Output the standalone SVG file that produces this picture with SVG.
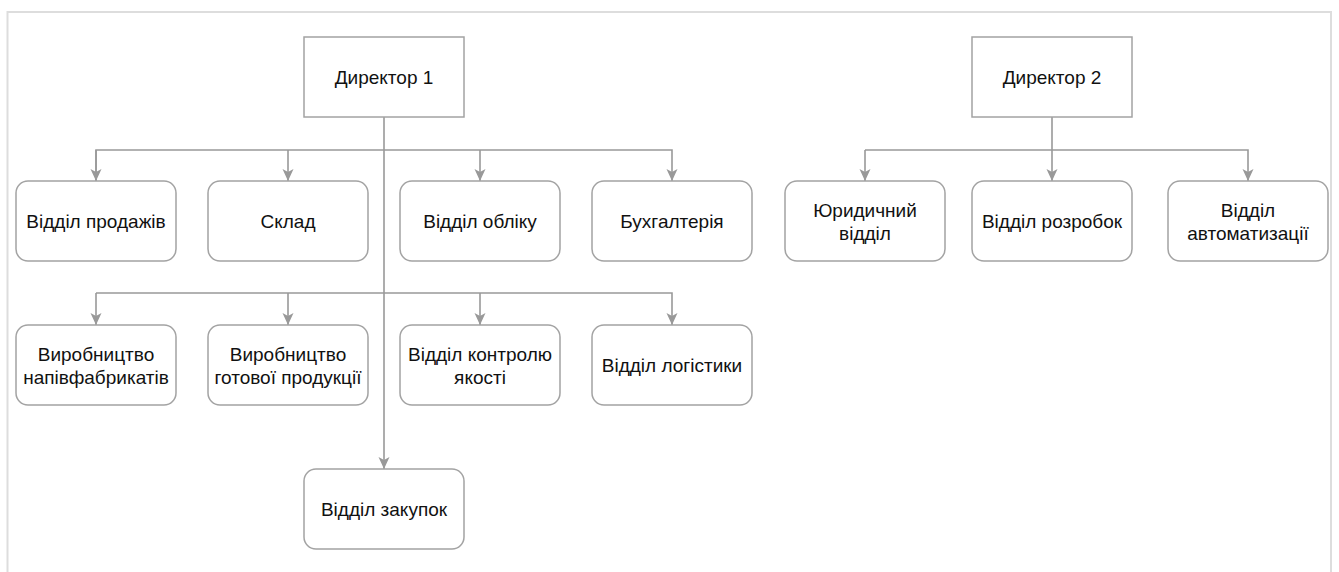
<svg xmlns="http://www.w3.org/2000/svg" width="1339" height="572" viewBox="0 0 1339 572">
<style>
.frame{fill:none;stroke:#dddddd;stroke-width:2}
.dir{fill:#ffffff;stroke:#a3a3a3;stroke-width:1.5}
.dep{fill:#ffffff;stroke:#a3a3a3;stroke-width:1.5}
.con{fill:none;stroke:#999999;stroke-width:1.6}
text{font-family:"Liberation Sans",Arial,sans-serif;font-size:19px;fill:#111111;text-anchor:middle}
</style>
<defs>
<marker id="arr" markerUnits="userSpaceOnUse" markerWidth="12" markerHeight="12" viewBox="0 0 12 12" refX="12" refY="6" orient="auto">
<path d="M0,0.5 L12,6 L0,11.5 L3,6 z" fill="#999999"/>
</marker>
</defs>
<rect width="1339" height="572" fill="#ffffff"/>
<path class="frame" d="M7.5,572 V12 H1331 V572"/>
<g id="connectors">
<path class="con" d="M384,117 V469" marker-end="url(#arr)"/>
<path class="con" d="M96,181 V150 H672 V181" marker-end="url(#arr)"/>
<path class="con" d="M96,150 V181" marker-end="url(#arr)"/>
<path class="con" d="M288,150 V181" marker-end="url(#arr)"/>
<path class="con" d="M480,150 V181" marker-end="url(#arr)"/>
<path class="con" d="M96,293 H672 V325" marker-end="url(#arr)"/>
<path class="con" d="M96,293 V325" marker-end="url(#arr)"/>
<path class="con" d="M288,293 V325" marker-end="url(#arr)"/>
<path class="con" d="M480,293 V325" marker-end="url(#arr)"/>
<path class="con" d="M1052,117 V181" marker-end="url(#arr)"/>
<path class="con" d="M865,150 H1248 V181" marker-end="url(#arr)"/>
<path class="con" d="M865,150 V181" marker-end="url(#arr)"/>
</g>
<g id="director1"><rect class="dir" x="304" y="37" width="160" height="80"/><text x="384" y="84">Директор 1</text></g>
<g id="director2"><rect class="dir" x="972" y="37" width="160" height="80"/><text x="1052" y="84">Директор 2</text></g>
<g id="sales"><rect class="dep" x="16" y="181" width="160" height="80" rx="12"/><text x="96" y="228">Відділ продажів</text></g>
<g id="warehouse"><rect class="dep" x="208" y="181" width="160" height="80" rx="12"/><text x="288" y="228">Склад</text></g>
<g id="accounting-dept"><rect class="dep" x="400" y="181" width="160" height="80" rx="12"/><text x="480" y="228">Відділ обліку</text></g>
<g id="bookkeeping"><rect class="dep" x="592" y="181" width="160" height="80" rx="12"/><text x="672" y="228">Бухгалтерія</text></g>
<g id="semi-production"><rect class="dep" x="16" y="325" width="160" height="80" rx="12"/><text x="96" y="360.5">Виробництво</text><text x="96" y="383.5">напівфабрикатів</text></g>
<g id="final-production"><rect class="dep" x="208" y="325" width="160" height="80" rx="12"/><text x="288" y="360.5">Виробництво</text><text x="288" y="383.5">готової продукції</text></g>
<g id="quality"><rect class="dep" x="400" y="325" width="160" height="80" rx="12"/><text x="480" y="360.5">Відділ контролю</text><text x="480" y="383.5">якості</text></g>
<g id="logistics"><rect class="dep" x="592" y="325" width="160" height="80" rx="12"/><text x="672" y="372">Відділ логістики</text></g>
<g id="purchasing"><rect class="dep" x="304" y="469" width="160" height="80" rx="12"/><text x="384" y="516">Відділ закупок</text></g>
<g id="legal"><rect class="dep" x="785" y="181" width="160" height="80" rx="12"/><text x="865" y="216.5">Юридичний</text><text x="865" y="239.5">відділ</text></g>
<g id="development"><rect class="dep" x="972" y="181" width="160" height="80" rx="12"/><text x="1052" y="228">Відділ розробок</text></g>
<g id="automation"><rect class="dep" x="1168" y="181" width="160" height="80" rx="12"/><text x="1248" y="216.5">Відділ</text><text x="1248" y="239.5">автоматизації</text></g>
</svg>
